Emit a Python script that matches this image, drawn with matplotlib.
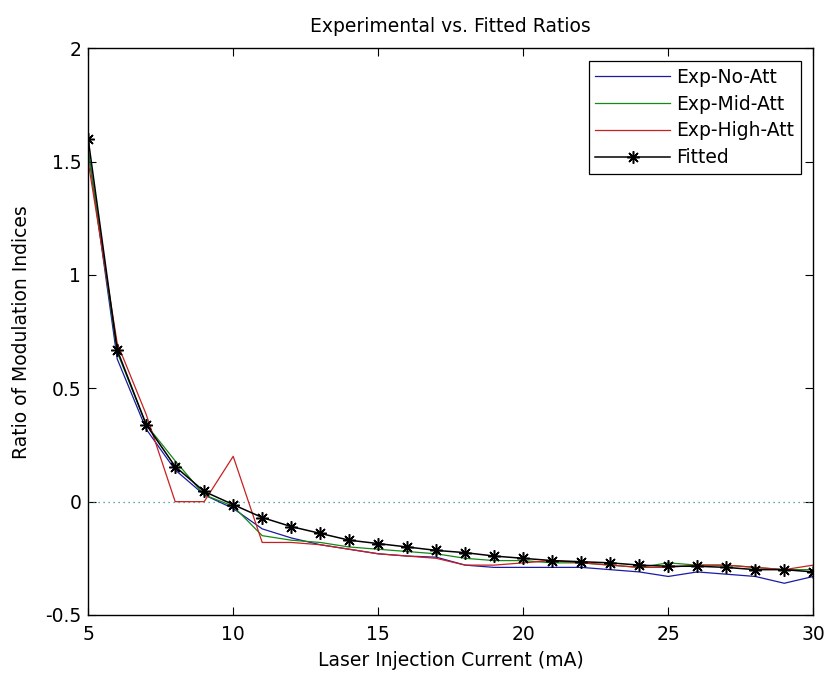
import numpy as np
import matplotlib
matplotlib.use('Agg')
import matplotlib.pyplot as plt

plt.rcParams['font.family'] = ['DejaVu Sans']
plt.rcParams['axes.unicode_minus'] = False

# Laser injection current (mA)
current = list(range(5, 31))

# Experimental ratios
exp_no_att = [1.55, 0.63, 0.32, 0.14, 0.03, -0.03, -0.12, -0.16, -0.19, -0.21,
              -0.23, -0.24, -0.245, -0.28, -0.29, -0.29, -0.29, -0.29, -0.30, -0.31,
              -0.33, -0.31, -0.32, -0.33, -0.36, -0.33]
exp_mid_att = [1.55, 0.66, 0.34, 0.18, 0.03, -0.02, -0.15, -0.17, -0.18, -0.20,
               -0.21, -0.22, -0.23, -0.25, -0.26, -0.26, -0.27, -0.27, -0.28, -0.29,
               -0.27, -0.28, -0.28, -0.29, -0.30, -0.30]
exp_high_att = [1.50, 0.70, 0.385, 0.0, 0.0, 0.20, -0.18, -0.18, -0.19, -0.21,
                -0.23, -0.24, -0.25, -0.28, -0.28, -0.27, -0.26, -0.27, -0.28, -0.29,
                -0.29, -0.28, -0.28, -0.29, -0.30, -0.28]

# Fitted model
fitted = [1.60, 0.67, 0.34, 0.155, 0.045, -0.013, -0.07, -0.11, -0.14, -0.17,
          -0.185, -0.20, -0.215, -0.225, -0.24, -0.25, -0.26, -0.265, -0.27, -0.28,
          -0.285, -0.285, -0.29, -0.30, -0.30, -0.31]

fs = 13.5

fig = plt.figure(figsize=(8.24, 6.77), dpi=100)
ax = fig.add_axes([0.107, 0.0916, 0.88, 0.837])

ax.axhline(0, color='#2f8f8f', linestyle=(0, (1, 3)), linewidth=0.9)

ax.plot(current, exp_no_att, color='#1a1aa6', linewidth=0.9, label='Exp-No-Att')
ax.plot(current, exp_mid_att, color='#138a13', linewidth=0.9, label='Exp-Mid-Att')
ax.plot(current, exp_high_att, color='#c82020', linewidth=0.9, label='Exp-High-Att')
ax.plot(current, fitted, color='black', linewidth=1.1, marker=(8, 2, 0),
        markersize=9, markeredgewidth=1.1, label='Fitted')

ax.set_xlim(5, 30)
ax.set_ylim(-0.5, 2)
ax.set_xticks([5, 10, 15, 20, 25, 30])
ax.set_yticks([-0.5, 0, 0.5, 1, 1.5, 2])
ax.set_yticklabels(['-0.5', '0', '0.5', '1', '1.5', '2'])
ax.tick_params(direction='in', top=True, right=True, labelsize=fs, length=6)
ax.tick_params(axis='x', pad=7)
ax.tick_params(axis='y', pad=5)
for s in ax.spines.values():
    s.set_linewidth(1.0)

ax.set_title('Experimental vs. Fitted Ratios', fontsize=fs, pad=12)
ax.set_xlabel('Laser Injection Current (mA)', fontsize=fs, labelpad=5)
ax.set_ylabel('Ratio of Modulation Indices', fontsize=fs, labelpad=10)

leg = ax.legend(loc='upper right', fontsize=fs, handlelength=4.0, handletextpad=0.3,
                fancybox=False, edgecolor='black', framealpha=1, borderpad=0.35,
                labelspacing=0.42, borderaxespad=0.68)
leg.get_frame().set_linewidth(0.9)

fig.savefig('out.png', dpi=100)
